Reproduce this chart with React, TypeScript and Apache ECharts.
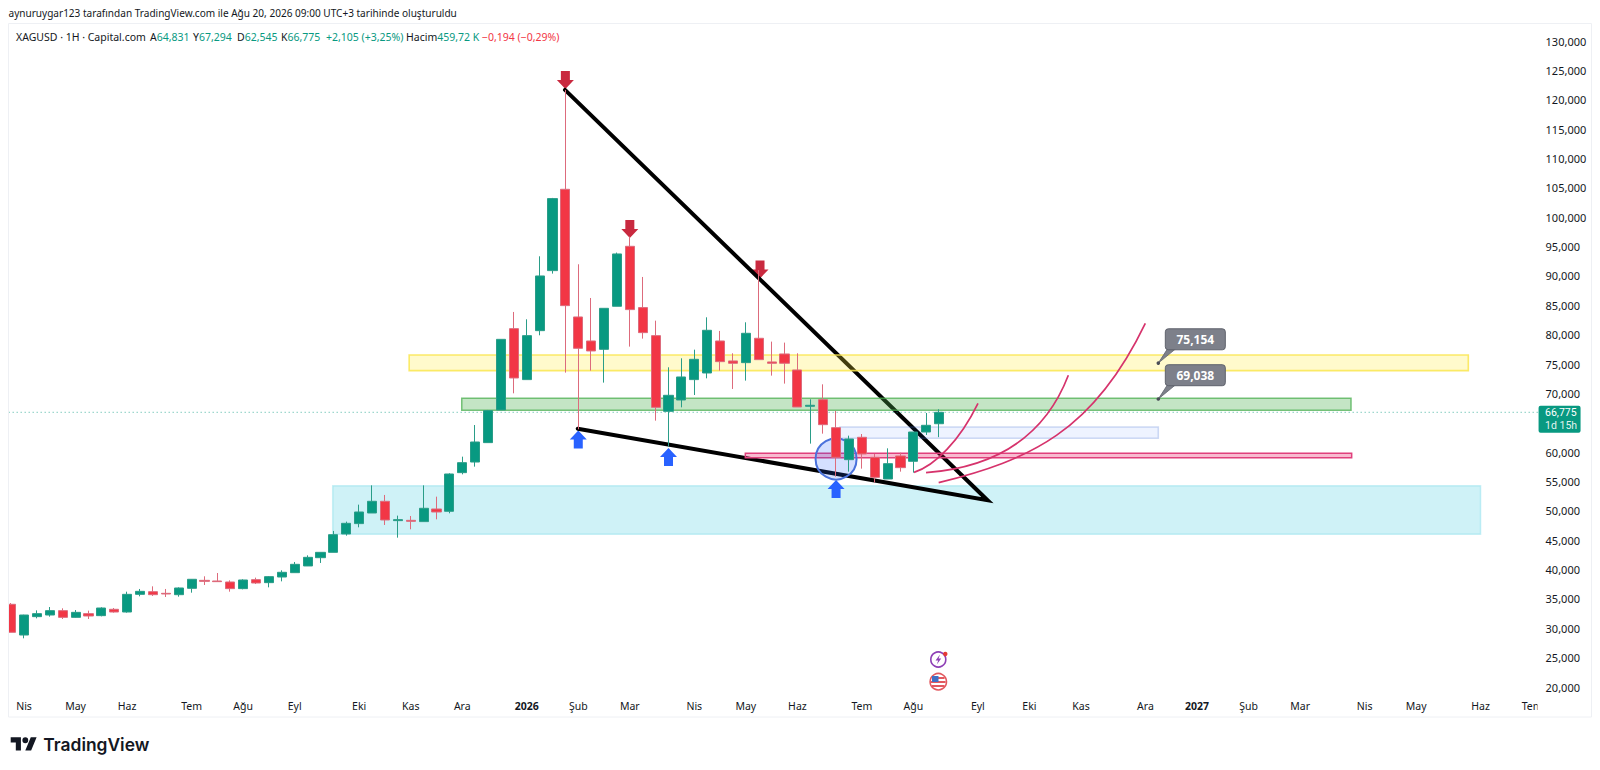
import React, { useEffect, useRef } from "react";
import * as echarts from "echarts";

// ---------- tick labels ----------
const monthTicks: [number, string][] = [
  [1, "Nis"], [5, "May"], [9, "Haz"], [14, "Tem"], [18, "Ağu"], [22, "Eyl"], [27, "Eki"], [31, "Kas"], [35, "Ara"],
  [40, "2026"], [44, "Şub"], [48, "Mar"], [53, "Nis"], [57, "May"], [61, "Haz"], [66, "Tem"], [70, "Ağu"], [75, "Eyl"],
  [79, "Eki"], [83, "Kas"], [88, "Ara"], [92, "2027"], [96, "Şub"], [100, "Mar"], [105, "Nis"], [109, "May"], [114, "Haz"], [118, "Tem"],
];
const barCount = 119;

// ---------- weekly candles ----------
const opens = [34080, 28850, 31980, 32260, 33000, 31860, 32490, 32150, 33230, 32770, 35780, 36230, 35950, 35720, 36800, 38160, 38050, 37880, 36750, 38280, 37770, 38730, 39470, 40610, 42020, 42930, 46060, 47820, 49630, 51620, 48330, 48380, 48160, 50310, 49920, 56500, 58310, 61610, 67170, 81020, 72340, 80680, 90900, 104750, 83010, 78920, 77500, 84830, 95040, 84600, 79830, 66940, 68870, 72340, 73470, 78920, 75520, 75230, 79380, 75350, 76710, 73980, 67800, 68930, 64160, 58710, 62520, 59110, 55420, 59340, 58430, 63420, 64831];
const closes = [29310, 32260, 32490, 33000, 31860, 32710, 32090, 33450, 32770, 35780, 36290, 35720, 35840, 36860, 38340, 37990, 37940, 36750, 38220, 37710, 38790, 39530, 40890, 42080, 42930, 45940, 47870, 49800, 51620, 48440, 48500, 48210, 50430, 49800, 56270, 58200, 61720, 67060, 79200, 72620, 79830, 89990, 103160, 84940, 77670, 77220, 84480, 93740, 84260, 80340, 67620, 69670, 72790, 75800, 80740, 75400, 75120, 80230, 75740, 75120, 75120, 67680, 67970, 64670, 59110, 62230, 59680, 55700, 58030, 57350, 63420, 64560, 66775];
const lows = [29310, 28290, 31690, 31980, 31580, 31810, 31580, 32030, 32660, 32660, 35440, 35500, 35330, 35380, 36060, 37370, 37940, 36230, 36630, 37540, 36970, 37990, 39470, 40600, 41120, 42930, 45770, 47190, 49630, 47590, 45430, 46850, 48160, 48550, 49580, 56210, 57520, 61610, 67170, 70010, 72340, 79890, 90390, 73530, 63880, 73870, 71830, 84830, 77960, 79320, 65350, 60930, 67620, 69720, 72560, 73870, 70750, 72170, 75740, 73020, 71660, 67680, 61440, 63140, 55820, 56670, 57180, 54800, 55420, 56670, 56500, 62910, 62545];
const highs = [34300, 32300, 33050, 33620, 33400, 33110, 33000, 33570, 33450, 36230, 36690, 37140, 36690, 36970, 38390, 38850, 39410, 38160, 38340, 38620, 38900, 39870, 41290, 42420, 42930, 46570, 48160, 51050, 54340, 52700, 49180, 49120, 54340, 52410, 56390, 59220, 64610, 67170, 79200, 83860, 82610, 93340, 103280, 121670, 91980, 86240, 84480, 93970, 96690, 89820, 82380, 74440, 75970, 77440, 82950, 80630, 76820, 82100, 91000, 78810, 78640, 76820, 68990, 71540, 67000, 62800, 63080, 59680, 60640, 59900, 63420, 66660, 67294];

const lastPrice = 66775;
const priceTicks = { min: 20000, max: 130000, step: 5000 };
const priceLabelUnderTag = 65000;

// ---------- drawings, in bar index / price ----------
const cyanZone = [24.95, 114.0, 54280, 46000];
const yellowZone = [30.88, 113.05, 76540, 73870];
const greenZone = [34.96, 103.95, 69170, 67120];
const blueZone = [64.3, 89.0, 64280, 62350];
const pinkZone = [56.96, 104.0, 59800, 59050];
const circleMark = [64, 58830];

const wedge = [[42.97, 121670], [75.75, 51800], [43.96, 63990]];
// each curve: start, control, control, end
const curveA = [[70.05, 56556], [71.68, 57635], [73.62, 62063], [75.01, 68307]];
const curveB = [[70.98, 56499], [75.43, 57237], [79.95, 61211], [82.02, 73076]];
const curveC = [[71.96, 54796], [79.05, 58656], [83.96, 63482], [87.99, 81932]];
const curves = [curveA, curveB, curveC];

const redArrows = [[43, 123370], [48, 98000], [58.1, 91100]];
const blueArrows = [[44, 62150], [51, 59170], [64, 53720]];
const callouts: [number, number][] = [[89, 75154], [89, 69038]];

const legendParts: { x: number; label: string; value: string; color: string }[] = [
  { x: 150, label: "A", value: "64,831", color: "#089981" },
  { x: 193, label: "Y", value: "67,294", color: "#089981" },
  { x: 237, label: "D", value: "62,545", color: "#089981" },
  { x: 281, label: "K", value: "66,775", color: "#089981" },
  { x: 326, label: "", value: "+2,105 (+3,25%)", color: "#089981" },
  { x: 406, label: "Hacim", value: "459,72 K", color: "#089981" },
  { x: 482, label: "", value: "−0,194 (−0,29%)", color: "#f23645" },
];

const headerText = "aynuruygar123 tarafından TradingView.com ile Ağu 20, 2026 09:00 UTC+3 tarihinde oluşturuldu";
const symbolText = "XAGUSD · 1H · Capital.com";

const FONT = '"Noto Sans", sans-serif';
const INK = "#131722";
const UP = "#089981";
const DOWN = "#f23645";
const ARROW_DOWN = "path://M4 0H13V9H17L8.5 18L0 9H4Z";
const ARROW_UP = "path://M8.5 0L17 9H13V18H4V9H0Z";

echarts.graphic.registerShape(
  "tvmark",
  echarts.graphic.extendPath(
    "M14 22H7V11H0V4h14v18zM28 22h-8l7.5-18h8L28 22zM24 8a4 4 0 1 1-8 0 4 4 0 0 1 8 0z",
    {}
  )
);

function zoneSeries(zones: { box: number[]; fill: string; stroke: string; width: number }[], z: number) {
  return {
    type: "custom",
    xAxisIndex: 1,
    yAxisIndex: 0,
    z,
    silent: true,
    data: zones.map((o) => [o.box[0], o.box[2]]),
    renderItem: (params: any, api: any) => {
      const o = zones[params.dataIndex];
      const a = api.coord([o.box[0], o.box[2]]);
      const b = api.coord([o.box[1], o.box[3]]);
      return {
        type: "rect",
        shape: { x: a[0], y: a[1], width: b[0] - a[0], height: b[1] - a[1] },
        style: { fill: o.fill, stroke: o.stroke, lineWidth: o.width },
      };
    },
  };
}

function buildOption() {
  const categories = Array.from({ length: barCount }, (_, i) => {
    const hit = monthTicks.find((t) => t[0] === i);
    return hit ? hit[1] : "";
  });
  const candles = opens.map((o, i) => [o, closes[i], lows[i], highs[i]]);

  const graphic: any[] = [
    { type: "rect", z: 50, shape: { x: 0, y: 24, width: 8.5, height: 690 }, style: { fill: "#ffffff" } },
    { type: "rect", z: 50, shape: { x: 1537.5, y: 695, width: 6, height: 20 }, style: { fill: "#ffffff" } },
    { type: "rect", z: 51, shape: { x: 8.5, y: 23.5, width: 1583, height: 693.5 }, style: { fill: "transparent", stroke: "#eef0f4", lineWidth: 1 } },
    { type: "text", x: 8.5, y: 13, style: { text: headerText, fontFamily: FONT, fontSize: 10.05, fill: INK, verticalAlign: "middle" } },
    { type: "text", x: 16, y: 36.5, style: { text: symbolText, fontFamily: FONT, fontSize: 10.5, fill: INK, verticalAlign: "middle" } },
    // events
    { type: "circle", shape: { cx: 938.3, cy: 659.5, r: 7.5 }, style: { fill: "#fff", stroke: "#8e3fb5", lineWidth: 1.6 } },
    { type: "polygon", shape: { points: [[940, 654.5], [935.5, 660.5], [938.2, 660.5], [936.8, 664.5], [941.2, 658.5], [938.6, 658.5]] }, style: { fill: "#8e3fb5" } },
    { type: "circle", shape: { cx: 945.3, cy: 654, r: 2.2 }, style: { fill: "#e53935" } },
    { type: "circle", shape: { cx: 938.3, cy: 681.7, r: 8.2 }, style: { fill: "#fff", stroke: "#e2595f", lineWidth: 1.6 } },
    { type: "rect", shape: { x: 932, y: 677, width: 12.6, height: 2 }, style: { fill: "#e2595f" } },
    { type: "rect", shape: { x: 931, y: 681, width: 14.6, height: 2 }, style: { fill: "#e2595f" } },
    { type: "rect", shape: { x: 932, y: 685, width: 12.6, height: 2 }, style: { fill: "#e2595f" } },
    { type: "rect", shape: { x: 932, y: 676, width: 6.5, height: 6 }, style: { fill: "#3f6fc4" } },
    // footer logo
    { type: "tvmark", x: 10.7, y: 734.4, scaleX: 0.73, scaleY: 0.73, style: { fill: "#131722" } },
    { type: "text", x: 43.3, y: 744, style: { text: "TradingView", fontFamily: "Inter, sans-serif", fontWeight: 600, fontSize: 17.4, fill: "#131722", verticalAlign: "middle" } },
  ];
  for (const p of legendParts) {
    graphic.push({
      type: "text",
      x: p.x,
      y: 36.5,
      style: {
        text: (p.label ? `{l|${p.label}}` : "") + `{v|${p.value}}`,
        verticalAlign: "middle",
        rich: {
          l: { fontFamily: FONT, fontSize: 10.5, fill: INK, color: INK },
          v: { fontFamily: FONT, fontSize: 10.5, fill: p.color, color: p.color },
        },
      },
    });
  }

  return {
    animation: false,
    backgroundColor: "#ffffff",
    grid: { left: 4.67, top: 41, width: 1533.9, height: 646, containLabel: false },
    xAxis: [
      {
        type: "category",
        data: categories,
        boundaryGap: true,
        axisLine: { show: false },
        axisTick: { show: false },
        splitLine: { show: false },
        axisLabel: {
          interval: 0,
          margin: 13,
          fontFamily: FONT,
          fontSize: 10.5,
          color: INK,
          formatter: (v: string) => (/^20/.test(v) ? `{b|${v}}` : v),
          rich: { b: { fontFamily: FONT, fontSize: 10.5, fontWeight: 700, color: INK } },
        },
      },
      { type: "value", min: -0.5, max: barCount - 0.5, show: false, splitLine: { show: false } },
    ],
    yAxis: {
      type: "value",
      position: "right",
      min: priceTicks.min,
      max: priceTicks.max,
      interval: priceTicks.step,
      axisLine: { show: false },
      axisTick: { show: false },
      splitLine: { show: false },
      axisLabel: {
        margin: 7,
        align: "left",
        fontFamily: FONT,
        fontSize: 11,
        color: INK,
        formatter: (v: number) => (v === priceLabelUnderTag ? "" : v.toLocaleString("en-US")),
      },
    },
    graphic,
    series: [
      zoneSeries([{ box: cyanZone, fill: "rgba(38,198,218,0.22)", stroke: "rgba(38,198,218,0.22)", width: 1.5 }], 0),
      {
        type: "scatter",
        xAxisIndex: 1,
        yAxisIndex: 0,
        z: 1,
        silent: true,
        symbol: ARROW_DOWN,
        symbolSize: [17, 18],
        data: redArrows,
        itemStyle: { color: "#c9293f", opacity: 1 },
      },
      {
        type: "scatter",
        xAxisIndex: 1,
        yAxisIndex: 0,
        z: 1,
        silent: true,
        symbol: ARROW_UP,
        symbolSize: [17, 18],
        data: blueArrows,
        itemStyle: { color: "#2962ff", opacity: 1 },
      },
      {
        type: "line",
        xAxisIndex: 1,
        yAxisIndex: 0,
        z: 2,
        silent: true,
        symbol: "none",
        data: wedge,
        lineStyle: { color: "#000000", width: 4, join: "miter", cap: "round" },
      },
      zoneSeries(
        [
          { box: yellowZone, fill: "rgba(255,235,59,0.26)", stroke: "rgba(250,230,80,0.85)", width: 1.6 },
          { box: greenZone, fill: "rgba(76,175,80,0.33)", stroke: "rgba(76,175,80,0.75)", width: 1.5 },
          { box: blueZone, fill: "rgba(41,98,255,0.08)", stroke: "rgba(70,110,210,0.25)", width: 1.5 },
          { box: pinkZone, fill: "rgba(233,30,99,0.3)", stroke: "#e0407c", width: 1.5 },
        ],
        3
      ),
      {
        type: "custom",
        xAxisIndex: 1,
        yAxisIndex: 0,
        z: 3,
        silent: true,
        data: [circleMark],
        renderItem: (_p: any, api: any) => {
          const c = api.coord(circleMark);
          return {
            type: "circle",
            shape: { cx: c[0], cy: c[1], r: 20.5 },
            style: { fill: "rgba(41,98,255,0.2)", stroke: "#4a72dc", lineWidth: 2 },
          };
        },
      },
      {
        type: "line",
        xAxisIndex: 1,
        yAxisIndex: 0,
        z: 3,
        silent: true,
        symbol: "none",
        data: [[-0.5, lastPrice], [barCount - 0.5, lastPrice]],
        lineStyle: { color: "#089981", width: 1, type: [1, 3], opacity: 0.75 },
      },
      {
        type: "candlestick",
        xAxisIndex: 0,
        yAxisIndex: 0,
        z: 4,
        silent: true,
        barWidth: 9.6,
        data: candles,
        itemStyle: { color: UP, color0: DOWN, borderColor: "#2a9d88", borderColor0: "#dd6b7c", borderWidth: 1 },
      },
      {
        type: "custom",
        xAxisIndex: 1,
        yAxisIndex: 0,
        z: 8,
        silent: true,
        data: curves.map((c) => c[0]),
        renderItem: (params: any, api: any) => {
          const [s, c1, c2, e] = curves[params.dataIndex].map((pt) => api.coord(pt));
          return {
            type: "bezierCurve",
            shape: { x1: s[0], y1: s[1], x2: e[0], y2: e[1], cpx1: c1[0], cpy1: c1[1], cpx2: c2[0], cpy2: c2[1] },
            style: { fill: "none", stroke: "#d6336c", lineWidth: 1.7 },
          };
        },
      },
      {
        type: "custom",
        xAxisIndex: 1,
        yAxisIndex: 0,
        z: 9,
        silent: true,
        data: callouts,
        renderItem: (params: any, api: any) => {
          const c = callouts[params.dataIndex];
          const p = api.coord(c);
          return {
            type: "group",
            x: p[0],
            y: p[1],
            children: [
              { type: "polygon", shape: { points: [[0, 0], [9, -14], [17, -14]] }, style: { fill: "#7d808a", stroke: "#5f626c", lineWidth: 0.8 } },
              { type: "rect", shape: { x: 7, y: -34.3, width: 60, height: 21, r: 3 }, style: { fill: "#7d808a", stroke: "#5f626c", lineWidth: 1 } },
              { type: "circle", shape: { cx: 0, cy: 0, r: 1.8 }, style: { fill: "#4a4d57" } },
              { type: "text", style: { text: c[1].toLocaleString("en-US"), x: 37, y: -23.5, fontFamily: FONT, fontSize: 12, fontWeight: 700, fill: "#ffffff", align: "center", verticalAlign: "middle" } },
            ],
          };
        },
      },
      {
        type: "custom",
        xAxisIndex: 1,
        yAxisIndex: 0,
        z: 9,
        silent: true,
        data: [[barCount - 0.5, lastPrice]],
        renderItem: (_p: any, api: any) => {
          const p = api.coord([barCount - 0.5, lastPrice]);
          return {
            type: "group",
            x: p[0],
            y: p[1],
            children: [
              { type: "rect", shape: { x: 0, y: -6.6, width: 42, height: 27, r: 2 }, style: { fill: UP } },
              { type: "text", style: { text: lastPrice.toLocaleString("en-US"), x: 6.5, y: 0.5, fontFamily: "Roboto, sans-serif", fontSize: 10.5, fill: "#ffffff", verticalAlign: "middle" } },
              { type: "text", style: { text: "1d 15h", x: 6.5, y: 13, fontFamily: "Roboto, sans-serif", fontSize: 10.5, fill: "#ffffff", verticalAlign: "middle", opacity: 0.9 } },
            ],
          };
        },
      },
    ],
  };
}

export default function App() {
  const ref = useRef<HTMLDivElement>(null);
  useEffect(() => {
    const chart = echarts.init(ref.current as HTMLDivElement, undefined, { renderer: "svg" });
    chart.setOption(buildOption() as any);
    return () => chart.dispose();
  }, []);
  return <div ref={ref} style={{ position: "absolute", left: 0, top: 0, width: 1600, height: 770 }} />;
}
